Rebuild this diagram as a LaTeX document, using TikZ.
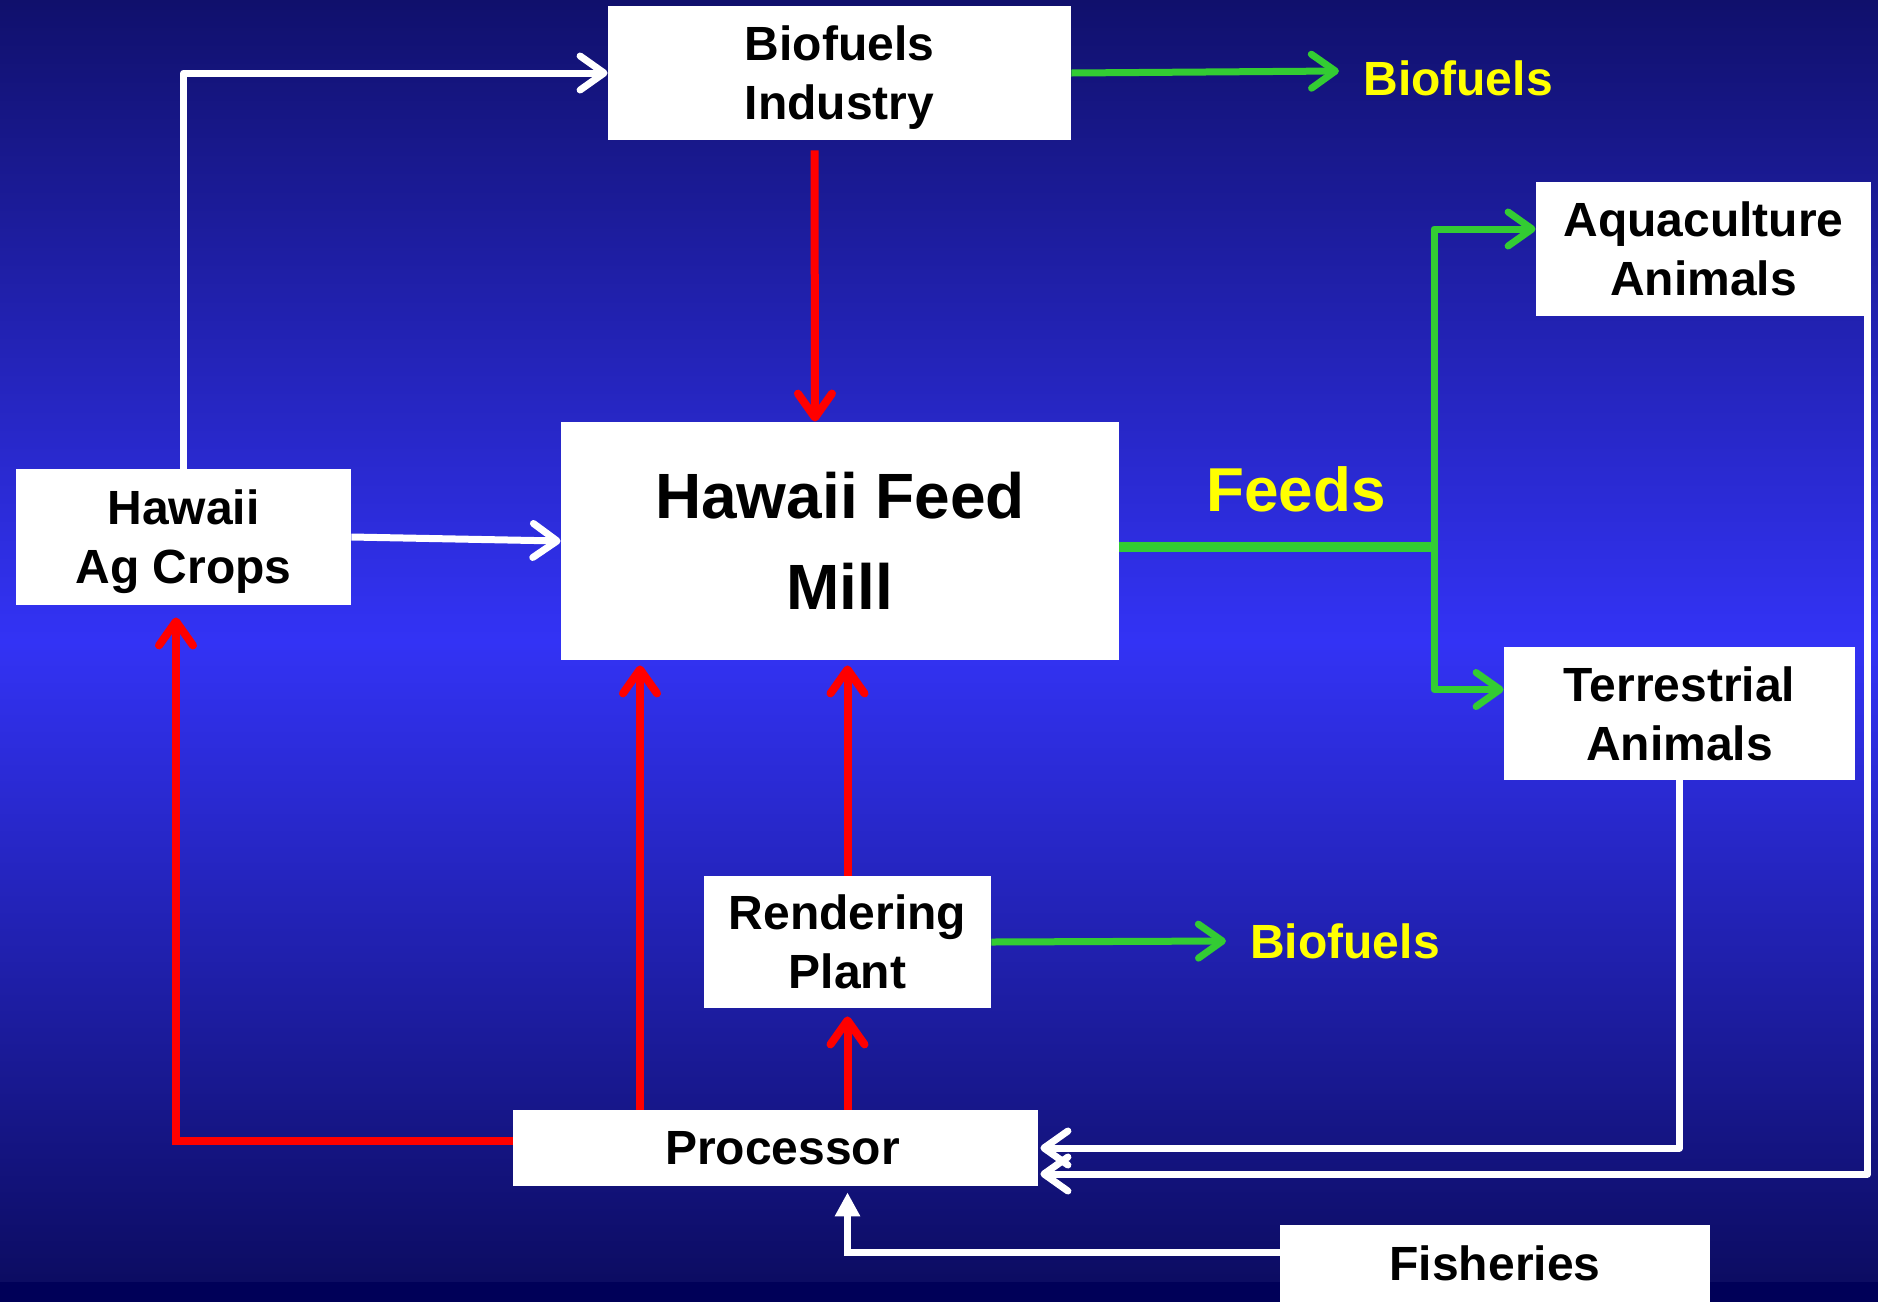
\documentclass[tikz,border=0pt]{standalone}
\usepackage{fontspec}
\setmainfont{Liberation Sans}
\usetikzlibrary{positioning, calc, arrows.meta}

\definecolor{bgtop}{RGB}{16,16,108}
\definecolor{bgmid}{RGB}{51,51,245}
\definecolor{bgbot}{RGB}{12,12,98}
\definecolor{bgstrip}{RGB}{0,0,88}
\definecolor{flowgreen}{RGB}{51,204,51}
\definecolor{flowred}{RGB}{255,0,0}
\definecolor{flowyellow}{RGB}{255,255,0}

\begin{document}
\begin{tikzpicture}[x=0.5pt,y=-0.5pt,
    >={Straight Barb[length=12pt,width=17pt,round]},
    unitbox/.style={fill=white,inner sep=0pt,align=center,font=\bfseries\fontsize{24}{29.5}\selectfont},
    productlabel/.style={text=flowyellow,inner ysep=2pt,inner xsep=12pt,font=\bfseries\fontsize{24}{29}\selectfont},
    whiteflow/.style={draw=white,line width=3.5pt,line join=round,->},
    greenflow/.style={draw=flowgreen,line width=3.5pt,line join=round,->},
    redflow/.style={draw=flowred,line width=4pt,->}]
      \useasboundingbox (0,0) rectangle (1878,1302);
      \shade[top color=bgtop, bottom color=bgbot, middle color=bgmid] (0,0) rectangle (1878,1282);
      \fill[bgstrip] (0,1282) rectangle (1878,1302);

      \node[unitbox, minimum width=231.5pt, minimum height=67pt, text depth=0pt] (industry) at (839.5,73) {Biofuels\\Industry};
      \node[unitbox, minimum width=279pt, minimum height=119pt, font=\bfseries\fontsize{32}{45.5}\selectfont] (mill) at (840,541) {Hawaii Feed\\Mill};
      \node[unitbox, minimum width=167.5pt, minimum height=68pt, text depth=0pt] (crops) at (183.5,537) {Hawaii\\Ag Crops};
      \node[unitbox, minimum width=167.5pt, minimum height=67pt] (aqua) at (1703.5,249) {Aquaculture\\Animals};
      \node[unitbox, minimum width=175.5pt, minimum height=66.5pt] (terr) at (1679.5,713.5) {Terrestrial\\Animals};
      \node[unitbox, minimum width=143.5pt, minimum height=66pt] (render) at (847.5,942) {Rendering\\Plant};
      \node[unitbox, minimum width=262.5pt, minimum height=38pt] (proc) at (775.5,1148) {\hspace*{7pt}Processor};
      \node[unitbox, minimum width=215pt, minimum height=38.5pt] (fish) at (1495,1263.5) {Fisheries};

      \node[productlabel] (fuel_top) at (1458,78) {Biofuels};
      \node[productlabel] (fuel_low) at (1345,941) {Biofuels};
      \node[productlabel, inner xsep=2pt, font=\bfseries\fontsize{31}{36}\selectfont] (feeds) at (1296,489) {Feeds};
      %

      \draw[whiteflow] (crops.north) |- (industry.west);
      \draw[whiteflow] (crops.east) -- (mill.west);
      \draw[redflow, shorten <=5pt] ([xshift=-12.5pt]industry.south) -- ([xshift=-12.5pt]mill.north);
      \draw[greenflow] (industry.east) -- ([yshift=3.5pt]fuel_top.west);

      \coordinate (split) at (1434,547);
      \draw[draw=flowgreen, line width=5pt] ([yshift=-3pt]mill.east) -- (split);
      \draw[greenflow] (split) |- ([yshift=10pt]aqua.west);
      \draw[greenflow] (split) |- ([yshift=12pt]terr.west);

      \draw[redflow, shorten >=6pt] ([yshift=3.5pt]proc.west) -| ([xshift=-3.75pt]crops.south);
      \coordinate (proc_left) at ([xshift=-67.75pt]proc.north);
      \draw[redflow, shorten >=2.5pt] (proc_left) -- (proc_left |- mill.south);
      \draw[redflow, shorten >=4pt] (proc.north -| render.south) -- (render.south);
      \draw[redflow, shorten >=2.5pt] (render.north) -- (render.north |- mill.south);
      \draw[greenflow] (render.east) -- (fuel_low.west);

      \draw[whiteflow, shorten >=1pt] (terr.south) |- (proc.east);
      \draw[whiteflow, shorten >=1pt] ([xshift=-2pt]aqua.east) |- ([yshift=-13pt]proc.east);
      \coordinate (fish_in) at (proc.south -| render.south);
      \draw[draw=white, line width=3.5pt, -{Triangle[length=12pt,width=12pt]}, shorten >=3pt] ([yshift=5.75pt]fish.west) -| (fish_in);
\end{tikzpicture}
\end{document}
